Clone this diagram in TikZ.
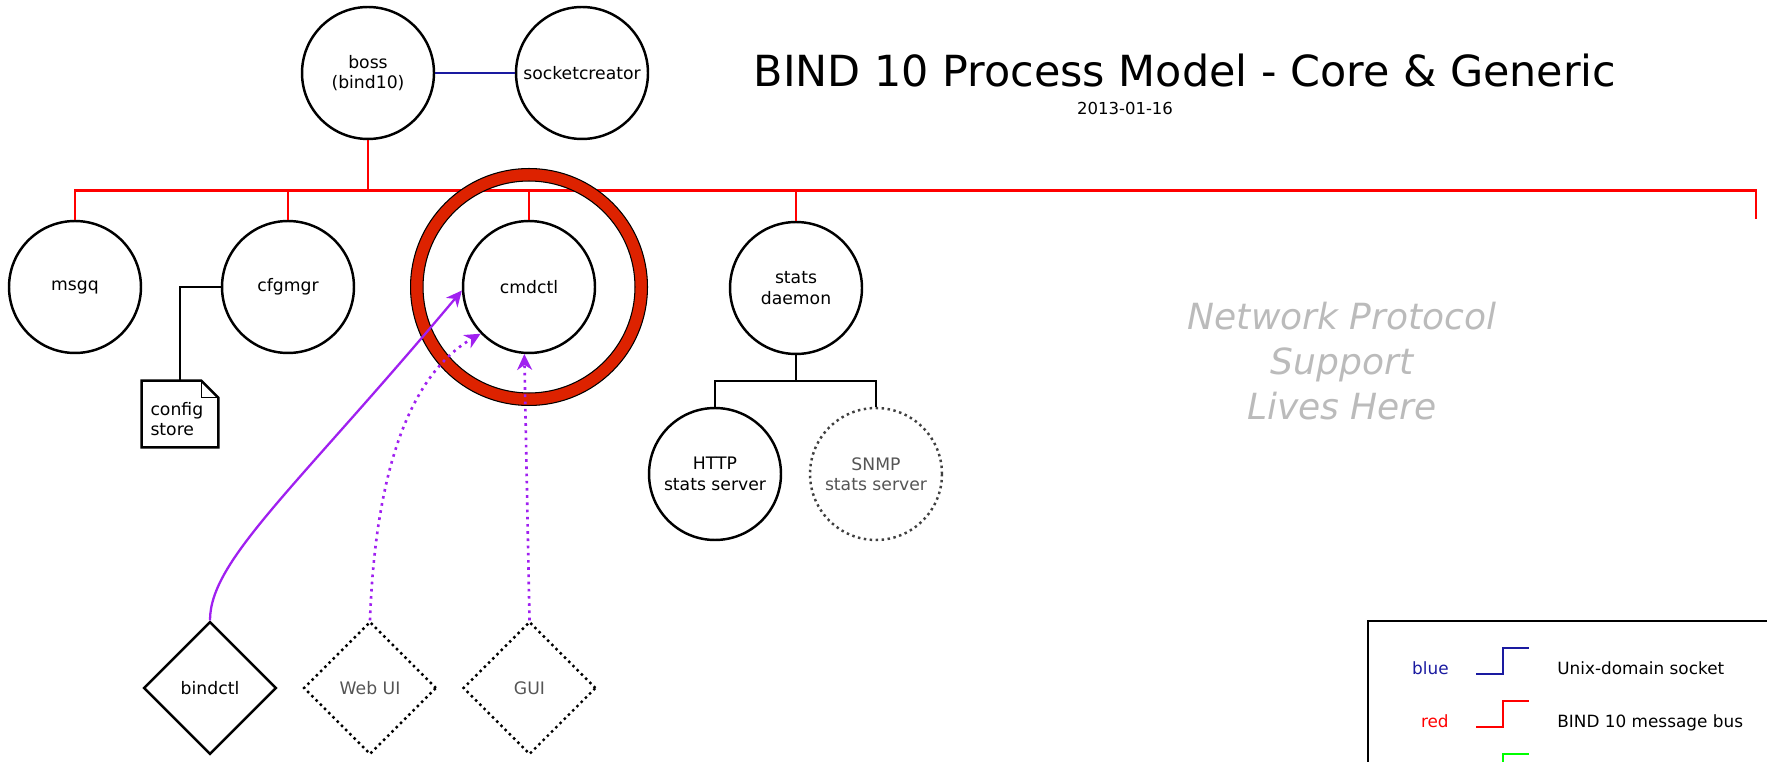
\documentclass[tikz,border=0pt]{standalone}
\usepackage{fontspec}
\setmainfont{DejaVu Sans}
\usetikzlibrary{shapes.geometric, arrows.meta}
\definecolor{busred}{HTML}{FF0000}
\definecolor{sockblue}{HTML}{1A1AA0}
\definecolor{ringred}{HTML}{DD2200}
\definecolor{ctlpurple}{HTML}{A020F0}
\definecolor{faded}{HTML}{555555}
\definecolor{ghost}{HTML}{BBBBBB}
\begin{document}
\begin{tikzpicture}[x=0.02cm, y=0.02cm, >={Stealth[length=9pt, width=8.5pt, inset=2.8pt]},
    proc/.style={circle, draw, line width=1.4pt, minimum size=2.64cm, inner sep=0pt, align=center, font=\fontsize{9.8}{11.6}\selectfont},
    tool/.style={diamond, draw, line width=1.4pt, minimum size=2.66cm, inner sep=0pt, font=\fontsize{9.8}{11.6}\selectfont},
    maybe/.style={dash pattern=on 1.4pt off 2pt, draw=black!75, text=faded},
    bus/.style={busred, line width=1.15pt},
    sock/.style={sockblue, line width=1.15pt},
    tree/.style={black, line width=1.4pt},
    ctl/.style={->, ctlpurple, line width=1.3pt},
    ctldots/.style={ctl, line width=1.5pt, dash pattern=on 1.5pt off 2.6pt},
    legend/.style={inner sep=0pt, font=\fontsize{9.6}{11.4}\selectfont}]

    \useasboundingbox (0,0) rectangle (1767,761);
    \clip (0,0) rectangle (1767,761);

    % Title.
    \node[anchor=base, font=\fontsize{24.4}{28}\selectfont] (title) at (1185,674) {BIND 10 Process Model - Core \& Generic};
    \node[anchor=base, font=\fontsize{9.4}{11}\selectfont] (date) at (1125,646) {2013-01-16};

    % Boss and socket creator.
    \node[proc] (boss) at (368,688) {boss\\(bind10)};
    \node[proc] (socket) at (582,688) {socketcreator};
    \draw[sock] (boss) -- (socket);

    % Processes on the message bus.
    \node[proc] (msgq) at (75,474) {msgq};
    \node[proc] (cfgmgr) at (288,474) {cfgmgr};
    \node[proc] (cmdctl) at (529,474) {cmdctl};
    \node[proc] (stats) at (796,473) {stats\\daemon};

    % Message bus.
    \coordinate (bustop) at (1756,570.5);
    \coordinate (busend) at (1756,542);
    \draw[bus] (msgq.north) |- (bustop) -- (busend);
    \draw[bus] (boss.south) -- (boss.south |- bustop);
    \foreach \n in {cfgmgr,cmdctl,stats}
        \draw[bus] (\n.north) -- (\n.north |- bustop);

    % Ring round cmdctl.
    \filldraw[fill=ringred, draw=black, line width=0.6pt, even odd rule] (cmdctl.center) circle (2.37cm) circle (2.12cm);

    % Config store.
    \node[minimum width=1.52cm, minimum height=1.32cm, inner sep=0pt] (store) at (180,347) {};
    \node[anchor=north west, align=left, inner sep=0pt, font=\fontsize{9.8}{11.6}\selectfont] (storetext) at ([shift={(0.17cm,-0.43cm)}]store.north west) {config\\store};
    \draw[tree] (store.north west) -- ([xshift=-0.34cm]store.north east) -- ([yshift=-0.34cm]store.north east) -- (store.south east) -- (store.south west) -- cycle;
    \draw[line width=0.7pt] ([xshift=-0.34cm]store.north east) |- ([yshift=-0.34cm]store.north east);
    \draw[tree] (cfgmgr.west) -| (store.north);

    % Stats servers.
    \node[proc] (http) at (715,287) {HTTP\\stats server};
    \node[proc, maybe] (snmp) at (876,287) {SNMP\\stats server};
    \coordinate (fork) at (796,380);
    \draw[tree] (stats.south) -- (fork);
    \draw[tree] (http.north) |- (fork) -| (snmp.north);

    % Control tools.
    \node[tool] (bindctl) at (210,73) {bindctl};
    \node[tool, maybe, draw=black] (webui) at (370,73) {Web UI};
    \node[tool, maybe, draw=black] (gui) at (529.5,73) {GUI};

    \draw[ctl] (bindctl.north) .. controls +(90:60) and +(230:260) .. (cmdctl.183);
    \draw[ctldots] (webui.north) .. controls +(88:130) and +(210:90) .. (cmdctl.224);
    \draw[ctldots] (gui.north) -- (cmdctl.266);

    % Placeholder text.
    \node[text=ghost, align=center, font=\fontsize{20.5}{25.6}\selectfont\itshape] (netproto) at (1342,400) {Network Protocol\\Support\\Lives Here};

    % Legend.
    \draw[line width=1.4pt] (1368,-30) |- (1800,140);
    \foreach \y/\col/\word/\what in {87/sockblue/blue/Unix-domain socket, 34/busred/red/BIND 10 message bus} {
        \node[legend, anchor=base east, text=\col] (key-\word) at (1449,\y) {\word};
        \node[legend, anchor=base west] (txt-\word) at (1557,\y) {\what};
        \draw[\col, line width=1.15pt] (1476,\y) -- (1503,\y) -- (1503,\y+26) -- (1529,\y+26);
    }
    \draw[green, line width=1.15pt] (1476,-19) -- (1503,-19) -- (1503,7) -- (1529,7);

\end{tikzpicture}
\end{document}
